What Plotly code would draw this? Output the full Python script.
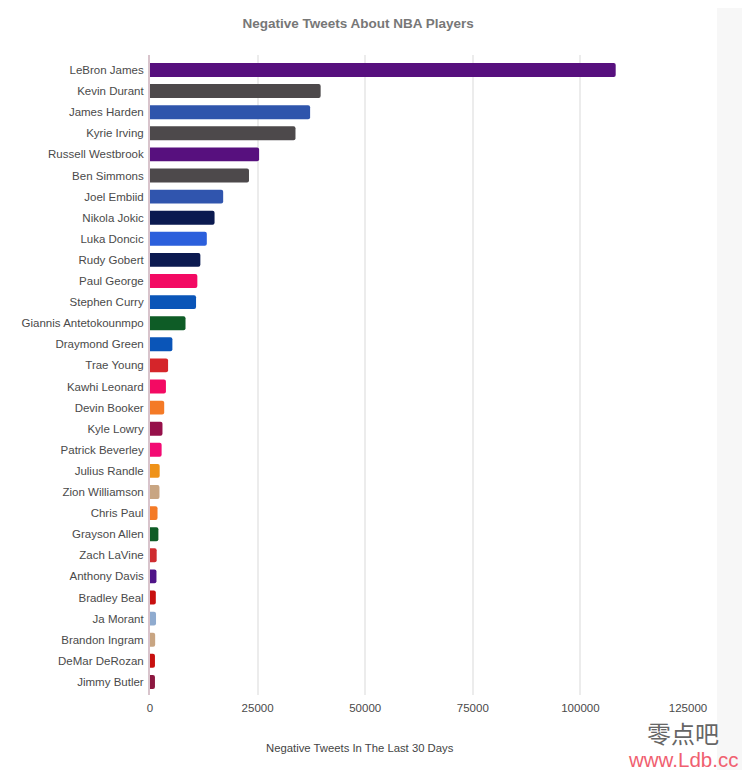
import plotly.graph_objects as go

players = ["LeBron James", "Kevin Durant", "James Harden", "Kyrie Irving", "Russell Westbrook",
           "Ben Simmons", "Joel Embiid", "Nikola Jokic", "Luka Doncic", "Rudy Gobert",
           "Paul George", "Stephen Curry", "Giannis Antetokounmpo", "Draymond Green", "Trae Young",
           "Kawhi Leonard", "Devin Booker", "Kyle Lowry", "Patrick Beverley", "Julius Randle",
           "Zion Williamson", "Chris Paul", "Grayson Allen", "Zach LaVine", "Anthony Davis",
           "Bradley Beal", "Ja Morant", "Brandon Ingram", "DeMar DeRozan", "Jimmy Butler"]

tweets = [108200, 39650, 37200, 33800, 25350,
          23000, 17000, 15000, 13200, 11700,
          11000, 10700, 8250, 5200, 4200,
          3700, 3300, 2900, 2700, 2250,
          2200, 1750, 1950, 1550, 1500,
          1350, 1400, 1200, 1150, 1150]

colors = ["#57107e", "#4d494b", "#2f55ac", "#4d494b", "#57107e",
          "#4d494b", "#3055ae", "#0b1a50", "#2b5fdc", "#0b1a50",
          "#f30a63", "#0a55b8", "#0e5c26", "#0a55b8", "#d5252a",
          "#f30a63", "#f47a26", "#96104a", "#f30a73", "#ef9218",
          "#c8a582", "#f47a26", "#0e5c26", "#cf2c30", "#4f1488",
          "#c8100f", "#8fabcf", "#c8a582", "#c8100f", "#8d1840"]

ticks = [0, 25000, 50000, 75000, 100000, 125000]

fig = go.Figure()
fig.add_trace(go.Bar(x=tweets, y=players, orientation="h",
                     marker=dict(color=colors, cornerradius=2, line=dict(width=0)),
                     width=0.66))

# grey strip down the right side of the screenshot
fig.add_shape(type="rect", xref="paper", yref="paper", x0=1.054, x1=1.2, y0=-0.2, y1=1.2,
              fillcolor="#f7f7f7", line_width=0, layer="below")

# page body adds 8px on the left and top, so the figure is 742x762
fig.update_layout(
    width=742, height=762,
    margin=dict(l=142, r=62, t=47, b=75),
    paper_bgcolor="white", plot_bgcolor="white",
    font=dict(family="Liberation Sans", size=11.5, color="#4a4a4a"),
    showlegend=False,
    title=dict(text="<b>Negative Tweets About NBA Players</b>", x=0.472, xanchor="center",
               y=0.98, yanchor="middle", font=dict(size=13.5, color="#777777")),
)
fig.update_xaxes(range=[0, 125000], tickvals=ticks, ticktext=[str(t) for t in ticks],
                 showgrid=True, gridcolor="#ececec", gridwidth=2, zeroline=False,
                 ticks="outside", ticklen=2, tickcolor="rgba(0,0,0,0)")
fig.update_yaxes(range=[29.62, -0.71], type="category", categoryorder="array", categoryarray=players,
                 showgrid=False, zeroline=False, showline=True, linecolor="#d8c4cc", linewidth=2,
                 ticks="outside", ticklen=2, tickcolor="rgba(0,0,0,0)")

# axis title sits left of the plot centre, so it is an annotation
fig.add_annotation(text="Negative Tweets In The Last 30 Days", xref="paper", yref="paper",
                   x=0.39, y=-0.083, xanchor="center", yanchor="middle", showarrow=False,
                   font=dict(size=11.3, color="#444444"))

# watermark in the bottom right corner
fig.add_annotation(text="零点吧", xref="paper", yref="paper", x=0.99, y=-0.059,
                   xanchor="center", yanchor="middle", showarrow=False,
                   font=dict(family="Noto Sans CJK SC", size=24, color="#666666"))
fig.add_annotation(text="www.Ldb.cc", xref="paper", yref="paper", x=0.99, y=-0.1,
                   xanchor="center", yanchor="middle", showarrow=False,
                   font=dict(family="Liberation Sans", size=20.5, color="#f06070"))

fig.write_html("out.html")
